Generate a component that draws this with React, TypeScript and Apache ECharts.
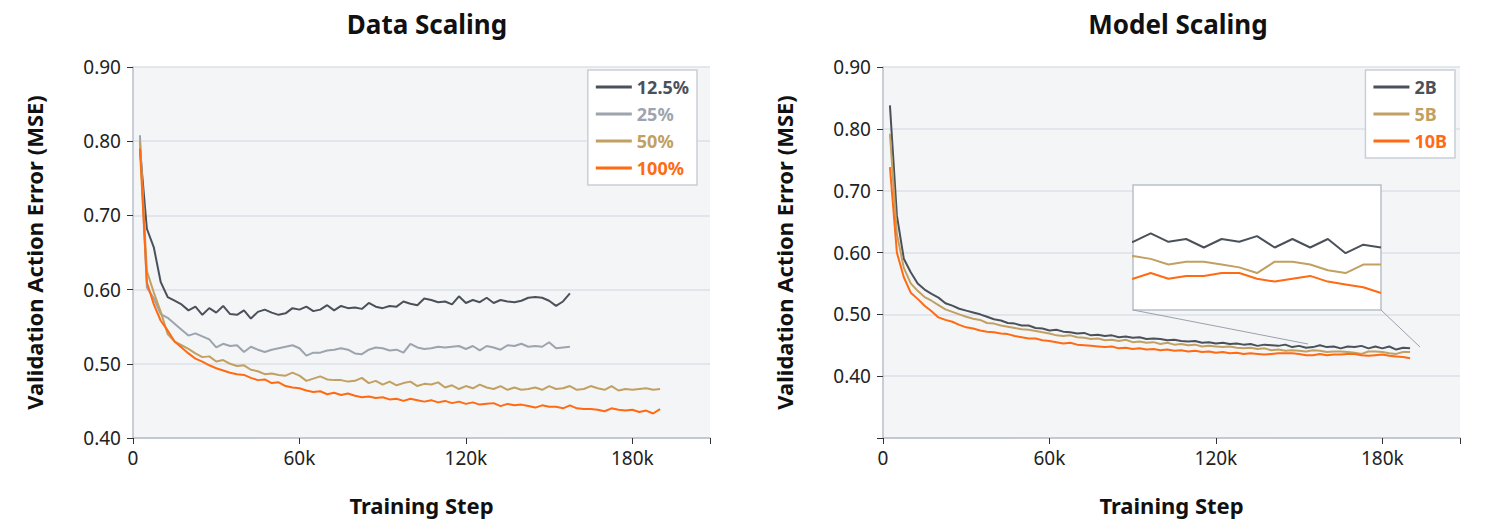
import React, { useEffect, useRef } from 'react';
import * as echarts from 'echarts';

// training steps, every 2.5k
const steps = Array.from({ length: 76 }, (_, i) => (i + 1) * 2500);

const data125 = [
  0.79, 0.682, 0.657, 0.61, 0.59, 0.585, 0.58, 0.572,
  0.577, 0.566, 0.575, 0.569, 0.578, 0.567, 0.566, 0.572,
  0.561, 0.57, 0.573, 0.569, 0.566, 0.568, 0.575, 0.573,
  0.577, 0.571, 0.573, 0.579, 0.572, 0.578, 0.575, 0.576,
  0.574, 0.582, 0.577, 0.575, 0.578, 0.577, 0.584, 0.581,
  0.579, 0.588, 0.586, 0.583, 0.584, 0.58, 0.591, 0.582,
  0.586, 0.583, 0.589, 0.582, 0.586, 0.584, 0.583, 0.585,
  0.589, 0.59, 0.589, 0.585, 0.578, 0.584, 0.595,
];
const data25 = [
  0.808, 0.603, 0.588, 0.567, 0.562, 0.554, 0.546, 0.538,
  0.541, 0.537, 0.533, 0.522, 0.527, 0.524, 0.525, 0.516,
  0.523, 0.519, 0.516, 0.519, 0.521, 0.523, 0.525, 0.521,
  0.511, 0.515, 0.515, 0.518, 0.519, 0.521, 0.519, 0.514,
  0.513, 0.519, 0.522, 0.521, 0.518, 0.519, 0.515, 0.527,
  0.522, 0.52, 0.521, 0.523, 0.522, 0.523, 0.524, 0.52,
  0.524, 0.518, 0.524, 0.522, 0.519, 0.525, 0.524, 0.527,
  0.523, 0.524, 0.523, 0.529, 0.521, 0.522, 0.523,
];
const data50 = [
  0.8, 0.625, 0.596, 0.57, 0.54, 0.53, 0.525, 0.52,
  0.514, 0.509, 0.51, 0.503, 0.505, 0.5, 0.497, 0.498,
  0.492, 0.49, 0.486, 0.487, 0.485, 0.484, 0.488, 0.484,
  0.477, 0.48, 0.483, 0.479, 0.478, 0.478, 0.476, 0.477,
  0.481, 0.474, 0.477, 0.472, 0.476, 0.471, 0.474, 0.476,
  0.47, 0.473, 0.472, 0.475, 0.468, 0.471, 0.466, 0.47,
  0.467, 0.472, 0.468, 0.466, 0.47, 0.465, 0.468, 0.465,
  0.466, 0.468, 0.465, 0.47, 0.466, 0.467, 0.47, 0.465,
  0.466, 0.47, 0.467, 0.465, 0.47, 0.464, 0.466, 0.465,
  0.466, 0.467, 0.465, 0.466,
];
const data100 = [
  0.79, 0.61, 0.58, 0.558, 0.545, 0.53, 0.522, 0.514,
  0.507, 0.503, 0.498, 0.494, 0.491, 0.488, 0.486, 0.485,
  0.481, 0.478, 0.479, 0.474, 0.475, 0.47, 0.468, 0.467,
  0.464, 0.462, 0.463, 0.459, 0.461, 0.458, 0.46, 0.457,
  0.455, 0.456, 0.454, 0.455, 0.452, 0.453, 0.45, 0.453,
  0.451, 0.449, 0.451, 0.448, 0.45, 0.447, 0.449, 0.446,
  0.448, 0.445, 0.446, 0.447, 0.443, 0.446, 0.444, 0.445,
  0.443, 0.441, 0.444, 0.442, 0.442, 0.44, 0.444, 0.44,
  0.439, 0.439, 0.438, 0.436, 0.44, 0.438, 0.437, 0.438,
  0.435, 0.437, 0.433, 0.439,
];
const data2B = [
  0.838, 0.66, 0.59, 0.568, 0.55, 0.54, 0.533, 0.527,
  0.518, 0.514, 0.509, 0.506, 0.503, 0.5, 0.496, 0.492,
  0.49, 0.486, 0.485, 0.482, 0.482, 0.478, 0.477, 0.474,
  0.475, 0.472, 0.471, 0.469, 0.47, 0.466, 0.467, 0.465,
  0.466, 0.463, 0.464, 0.462, 0.463, 0.46, 0.461, 0.46,
  0.458, 0.459, 0.457, 0.456, 0.457, 0.454, 0.455, 0.453,
  0.454, 0.452, 0.453, 0.451, 0.452, 0.449, 0.451, 0.45,
  0.449, 0.451, 0.447, 0.449, 0.446, 0.447, 0.45, 0.447,
  0.448, 0.445, 0.448, 0.447, 0.449, 0.445, 0.448, 0.445,
  0.448, 0.443, 0.446, 0.445,
];
const data5B = [
  0.792, 0.63, 0.575, 0.55, 0.538, 0.528, 0.522, 0.515,
  0.508, 0.504, 0.5, 0.496, 0.493, 0.491, 0.486, 0.485,
  0.482, 0.48, 0.478, 0.476, 0.475, 0.473, 0.471, 0.469,
  0.466, 0.465, 0.466, 0.463, 0.462, 0.46, 0.461, 0.458,
  0.459, 0.457, 0.459, 0.455, 0.456, 0.454, 0.455, 0.452,
  0.454, 0.451, 0.452, 0.45, 0.451, 0.448, 0.449, 0.448,
  0.447, 0.448, 0.446, 0.445, 0.446, 0.444, 0.445, 0.442,
  0.443, 0.441, 0.442, 0.441, 0.44, 0.442, 0.441, 0.439,
  0.44, 0.44, 0.439, 0.438, 0.436, 0.44, 0.44, 0.439,
  0.437, 0.436, 0.439, 0.439,
];
const data10B = [
  0.738, 0.6, 0.56, 0.535, 0.525, 0.514, 0.505, 0.495,
  0.491, 0.488, 0.483, 0.479, 0.477, 0.474, 0.472, 0.471,
  0.469, 0.468, 0.465, 0.463, 0.461, 0.461, 0.458, 0.457,
  0.455, 0.453, 0.454, 0.451, 0.45, 0.449, 0.448, 0.447,
  0.448, 0.445, 0.446, 0.444, 0.445, 0.443, 0.444, 0.442,
  0.443, 0.441, 0.442, 0.44, 0.441, 0.439, 0.44, 0.438,
  0.439, 0.437, 0.438, 0.436, 0.437, 0.436, 0.435, 0.436,
  0.437, 0.437, 0.437, 0.436, 0.434, 0.434, 0.436, 0.434,
  0.435, 0.435, 0.436, 0.436, 0.434, 0.433, 0.434, 0.435,
  0.433, 0.432, 0.431, 0.429,
];

const xTicks = [0, 60000, 120000, 180000];

const C_DARK = '#4b515a';
const C_GRAY = '#9ca4ae';
const C_GOLD = '#c1a062';
const C_ORANGE = '#ff6a13';
const FONT = '"Noto Sans", sans-serif';

const pair = (ys: number[]) => ys.map((y, i) => [steps[i], y]);

const App = () => {
  const chartRef = useRef<HTMLDivElement>(null);

  useEffect(() => {
    const chart = echarts.init(chartRef.current!, undefined, { renderer: 'svg' });

    const xAxis = (gridIndex: number) => ({
      type: 'value',
      gridIndex,
      min: 0,
      max: 208000,
      interval: 60000,
      name: 'Training Step',
      nameLocation: 'middle',
      nameGap: 56,
      nameTextStyle: { fontSize: 22, fontWeight: 'bold', color: '#111', fontFamily: FONT },
      axisLine: { lineStyle: { color: '#b8bfca', width: 1.5 } },
      axisTick: { show: true, length: 6, lineStyle: { color: '#333' } },
      axisLabel: {
        fontSize: 19,
        color: '#222',
        margin: 10,
        fontFamily: FONT,
        formatter: (v: number) => (xTicks.includes(v) ? (v === 0 ? '0' : v / 1000 + 'k') : ''),
      },
      splitLine: { show: false },
    });
    const yAxis = (gridIndex: number, min: number) => ({
      type: 'value',
      gridIndex,
      min,
      max: 0.9,
      interval: 0.1,
      name: 'Validation Action Error (MSE)',
      nameLocation: 'middle',
      nameGap: 88,
      nameTextStyle: { fontSize: 22, fontWeight: 'bold', color: '#111', fontFamily: FONT },
      axisLine: { show: true, lineStyle: { color: '#b8bfca', width: 1.5 } },
      axisTick: { show: true, length: 6, lineStyle: { color: '#333' } },
      axisLabel: {
        fontSize: 19,
        color: '#222',
        margin: 12,
        fontFamily: FONT,
        formatter: (v: number) => (v < 0.35 ? '' : v.toFixed(2)),
      },
      splitLine: { lineStyle: { color: '#dde1e8', width: 1.5 } },
    });
    const line = (name: string, color: string, ys: number[], idx: number, z = 2) => ({
      type: 'line',
      name,
      xAxisIndex: idx,
      yAxisIndex: idx,
      data: pair(ys),
      showSymbol: false,
      symbol: 'none',
      z,
      lineStyle: { color, width: 2 },
      itemStyle: { color },
    });
    const legend = (right: number, items: [string, string][]) => ({
      orient: 'vertical',
      right,
      top: 70,
      padding: [8, 8, 8, 8],
      itemGap: 9,
      itemWidth: 36,
      itemHeight: 3,
      icon: 'rect',
      backgroundColor: '#fff',
      borderColor: '#c9cfd8',
      borderWidth: 1.5,
      data: items.map(([name, color]) => ({
        name,
        textStyle: { color, fontSize: 18, fontWeight: 'bold', fontFamily: FONT },
      })),
    });

    chart.setOption({
      animation: false,
      title: [
        { text: 'Data Scaling', left: 422, top: 6, textAlign: 'center',
          textStyle: { fontSize: 26, fontWeight: 'bold', color: '#111', fontFamily: FONT } },
        { text: 'Model Scaling', left: 1173, top: 6, textAlign: 'center',
          textStyle: { fontSize: 26, fontWeight: 'bold', color: '#111', fontFamily: FONT } },
      ],
      legend: [
        legend(791, [['12.5%', C_DARK], ['25%', C_GRAY], ['50%', C_GOLD], ['100%', C_ORANGE]]),
        legend(33, [['2B', C_DARK], ['5B', C_GOLD], ['10B', C_ORANGE]]),
      ],
      grid: [
        { left: 133, top: 67, width: 577, height: 371, show: true, backgroundColor: '#f4f5f7', borderWidth: 0 },
        { left: 883, top: 67, width: 577, height: 371, show: true, backgroundColor: '#f4f5f7', borderWidth: 0 },
        { left: 1133, top: 185, width: 248, height: 125, show: true, backgroundColor: '#fff',
          borderColor: '#b8bfca', borderWidth: 1.5, z: 5 },
      ],
      xAxis: [
        xAxis(0),
        xAxis(1),
        { type: 'value', gridIndex: 2, min: 155000, max: 190000, show: false, splitLine: { show: false } },
      ],
      yAxis: [
        yAxis(0, 0.4),
        yAxis(1, 0.3),
        { type: 'value', gridIndex: 2, min: 0.423, max: 0.467, show: false, splitLine: { show: false } },
      ],
      series: [
        line('12.5%', C_DARK, data125, 0),
        line('25%', C_GRAY, data25, 0),
        line('50%', C_GOLD, data50, 0),
        line('100%', C_ORANGE, data100, 0),
        line('2B', C_DARK, data2B, 1),
        line('5B', C_GOLD, data5B, 1),
        line('10B', C_ORANGE, data10B, 1),
        { ...line('2B', C_DARK, data2B, 2, 6), clip: true, silent: true },
        { ...line('5B', C_GOLD, data5B, 2, 6), clip: true, silent: true },
        { ...line('10B', C_ORANGE, data10B, 2, 6), clip: true, silent: true },
      ],
      graphic: [
        { type: 'line', shape: { x1: 1133, y1: 310, x2: 1308, y2: 344 },
          style: { stroke: '#9aa1ab', lineWidth: 1 }, z: 10 },
        { type: 'line', shape: { x1: 1381, y1: 310, x2: 1420, y2: 347 },
          style: { stroke: '#9aa1ab', lineWidth: 1 }, z: 10 },
      ],
    });

    return () => {
      chart.dispose();
    };
  }, []);

  return (
    <div
      ref={chartRef}
      style={{ position: 'absolute', left: 0, top: 0, width: '1488px', height: '532px', background: '#fff' }}
    ></div>
  );
};
export default App;
